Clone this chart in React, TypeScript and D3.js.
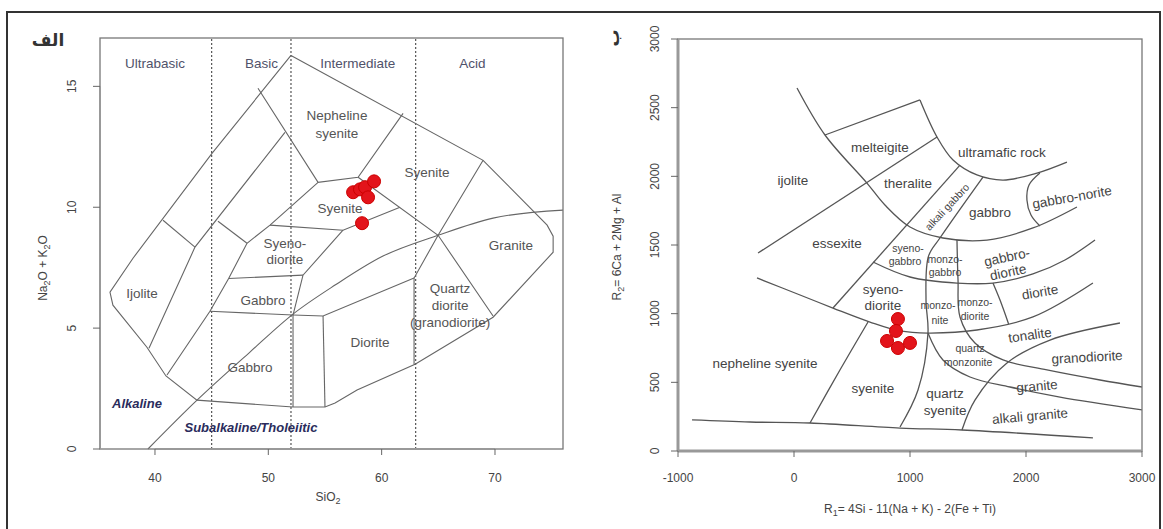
import React, { useEffect, useRef } from 'react';
import * as d3 from 'd3';

type Pt = [number, number];

// ---------- panel "الف": TAS plutonic diagram ----------
const tasTicksX = [40, 50, 60, 70];
const tasTicksY = [0, 5, 10, 15];
const silicaLimits = [45, 52, 63];
const silicaNames = ['Ultrabasic', 'Basic', 'Intermediate', 'Acid'];
const silicaNameX = [40, 49.4, 57.9, 68];

const tasOutline: Pt[] = [
  [52.0, 16.28], [68.95, 11.94], [74.6, 9.26], [75.13, 8.8], [75.13, 8.14], [69.83, 5.45],
  [62.95, 3.51], [57.83, 2.44], [55.89, 1.9], [55.0, 1.74], [52.18, 1.74], [43.7, 2.02],
  [40.97, 3.02], [39.29, 4.21], [36.29, 5.95], [36.03, 6.49], [38.06, 7.89], [45.03, 12.23],
  [52.0, 16.28],
];

const tasBoundaries: Pt[][] = [
  [[49.09, 14.92], [54.39, 11.03], [57.92, 11.24], [61.89, 13.88]],
  [[57.92, 11.24], [64.98, 8.84], [69.83, 5.5]],
  [[68.95, 11.94], [64.98, 8.84], [62.86, 7.07], [62.86, 3.51]],
  [[52.18, 5.54], [54.83, 5.5], [62.86, 7.07]],
  [[54.83, 5.5], [55.0, 1.74]],
  [[52.18, 5.54], [52.18, 1.74]],
  [[50.15, 9.26], [56.59, 9.05], [61.62, 10.0]],
  [[56.59, 9.05], [53.06, 7.19], [52.18, 5.54]],
  [[46.5, 7.05], [53.06, 7.19]],
  [[44.85, 5.7], [52.18, 5.54]],
  [[54.39, 11.03], [50.15, 9.26], [48.12, 8.51], [46.5, 7.05], [44.85, 5.7], [41.06, 3.06]],
  [[51.47, 13.1], [43.53, 8.35], [39.47, 4.17]],
  [[40.71, 9.46], [43.53, 8.35]],
  [[45.56, 9.42], [48.12, 8.51]],
];

// Irvine & Baragar alkaline / subalkaline divide
const alkalineDivide: Pt[] = [
  [39.38, 0], [43.71, 2.02], [48.38, 4.01], [52.18, 5.58], [55.89, 6.78],
  [60.12, 7.98], [64.98, 8.84], [69.83, 9.55], [76.0, 9.88],
];

const tasFieldNames = ['Nepheline', 'syenite', 'Syenite', 'Syenite', 'Syeno-', 'diorite', 'Granite',
  'Gabbro', 'Gabbro', 'Diorite', 'Ijolite', 'Quartz', 'diorite', '(granodiorite)'];
const tasFieldX = [56.06, 56.06, 64.01, 56.33, 51.47, 51.47, 71.4, 49.53, 48.38, 58.98, 38.85, 66.04, 66.04, 66.04];
const tasFieldY = [13.8, 13.06, 11.45, 9.96, 8.51, 7.85, 8.43, 6.16, 3.39, 4.42, 6.45, 6.65, 5.95, 5.25];

const seriesNames = ['Alkaline', 'Subalkaline/Tholeiitic'];
const seriesX = [38.41, 48.47];
const seriesY = [1.9, 0.91];

const sampleSiO2 = [57.48, 58.09, 58.54, 59.33, 58.8, 58.27];
const sampleAlkali = [10.62, 10.74, 10.83, 11.07, 10.41, 9.34];

// ---------- panel "ب": R1-R2 diagram ----------
const r1Ticks = [-1000, 0, 1000, 2000, 3000];
const r2Ticks = [0, 500, 1000, 1500, 2000, 2500, 3000];

const r1r2Boundaries: Pt[][] = [
  [[26, 2643], [267, 2301], [629, 1951], [784, 1791], [1000, 1631], [1284, 1551], [1664, 1536], [2060, 1624], [2439, 1777]],
  [[267, 2301], [1086, 2556]],
  [[1086, 2556], [1233, 2286], [1371, 2119], [1577, 2010], [1802, 1973], [2095, 2024], [2353, 2104]],
  [[-310, 1442], [1233, 2286]],
  [[336, 1041], [1431, 2082]],
  [[1629, 1995], [1258, 1551], [1160, 1420], [1138, 1099], [1155, 859], [1069, 444], [914, 175]],
  [[1405, 1536], [1414, 1245], [1431, 976], [1560, 786], [1802, 663], [2181, 590], [2638, 517], [3000, 466]],
  [[1155, 859], [1284, 663], [1517, 539], [1862, 466], [2293, 393], [3000, 299]],
  [[1448, 153], [1560, 371], [1836, 641], [2207, 808], [2810, 932]],
  [[-319, 1260], [52, 1136], [336, 1041], [655, 939], [914, 874], [1155, 859], [1577, 881], [2060, 976], [2577, 1223]],
  [[681, 1376], [1000, 1267], [1405, 1223], [1715, 1223], [2060, 1289], [2336, 1391], [2595, 1536]],
  [[1715, 1223], [1776, 1099], [1850, 925]],
  [[138, 204], [396, 590], [638, 939]],
  [[-879, 226], [-379, 211], [138, 204], [914, 167], [1448, 153], [2577, 95]],
  [[2120, 2024], [2026, 1937], [2008, 1828], [2043, 1718], [2120, 1638]],
];

const r1r2Names = ['ijolite', 'melteigite', 'ultramafic rock', 'theralite', 'gabbro', 'gabbro-norite',
  'essexite', 'diorite', 'tonalite', 'granodiorite', 'nepheline syenite', 'syenite', 'granite',
  'alkali granite', 'syeno-', 'diorite', 'quartz', 'syenite', 'gabbro-', 'diorite'];
const r1r2NameX = [-9, 741, 1793, 983, 1689, 2396, 371, 2120, 2034, 2526, -250, 681, 2095, 2034, 767, 767, 1302, 1302, 1836, 1845];
const r1r2NameY = [1973, 2213, 2177, 1951, 1740, 1849, 1514, 1158, 845, 684, 641, 459, 473, 255, 1180, 1063, 422, 299, 1413, 1303];
const r1r2Tilt = [0, 0, 0, 0, 0, -10, 0, -10, -8, -3, 0, 0, -5, -5, 0, 0, 0, 0, -12, -12];

const r1r2SmallNames = ['alkali gabbro', 'syeno-', 'gabbro', 'monzo-', 'gabbro', 'monzo-', 'nite',
  'monzo-', 'diorite', 'quartz', 'monzonite'];
const r1r2SmallX = [1319, 983, 957, 1302, 1302, 1241, 1258, 1560, 1560, 1517, 1500];
const r1r2SmallY = [1777, 1478, 1383, 1398, 1303, 1063, 954, 1085, 983, 750, 648];
const r1r2SmallTilt = [-47, 0, 0, 0, 0, 0, 0, 0, 0, 0, 0];

const sampleR1 = [896, 879, 802, 896, 1000];
const sampleR2 = [961, 874, 801, 750, 787];

const FONT = 'Liberation Sans, Arial, sans-serif';

export default function App() {
  const ref = useRef<SVGSVGElement>(null);

  useEffect(() => {
    const svg = d3.select(ref.current);
    svg.selectAll('*').remove();

    svg.append('rect').attr('width', 1163).attr('height', 529).attr('fill', '#fff');
    svg.append('rect')
      .attr('x', 7).attr('y', 12).attr('width', 1153).attr('height', 540)
      .attr('fill', 'none').attr('stroke', '#333').attr('stroke-width', 2);

    const axes = (g: any, x: any, y: any, xt: number[], yt: number[], yLabOff: number, axisW: number) => {
      const [x0, x1] = x.range();
      const [y0, y1] = y.range();
      g.append('rect')
        .attr('x', x0).attr('y', y1).attr('width', x1 - x0).attr('height', y0 - y1)
        .attr('fill', 'none').attr('stroke', '#777').attr('stroke-width', 1.3);
      g.append('line')
        .attr('x1', x(xt[0])).attr('x2', x(xt[xt.length - 1])).attr('y1', y0).attr('y2', y0)
        .attr('stroke', '#999').attr('stroke-width', axisW);
      g.append('line')
        .attr('y1', y(yt[0])).attr('y2', y(yt[yt.length - 1])).attr('x1', x0).attr('x2', x0)
        .attr('stroke', '#999').attr('stroke-width', axisW);
      xt.forEach(t => {
        g.append('line').attr('x1', x(t)).attr('x2', x(t)).attr('y1', y0).attr('y2', y0 + 6)
          .attr('stroke', '#666').attr('stroke-width', 1);
        g.append('text').attr('x', x(t)).attr('y', 482)
          .attr('text-anchor', 'middle').attr('font-size', 12).attr('fill', '#444').attr('font-family', FONT)
          .text(t);
      });
      yt.forEach(t => {
        g.append('line').attr('x1', x0 - 7).attr('x2', x0).attr('y1', y(t)).attr('y2', y(t))
          .attr('stroke', '#666').attr('stroke-width', 1);
        g.append('text')
          .attr('transform', `translate(${x0 - yLabOff},${y(t)}) rotate(-90)`)
          .attr('text-anchor', 'middle').attr('font-size', 12).attr('fill', '#444').attr('font-family', FONT)
          .text(t);
      });
    };

    // ----- left panel -----
    const xL = d3.scaleLinear().domain([35.15, 76]).range([100, 563]);
    const yL = d3.scaleLinear().domain([0, 17]).range([449, 38]);
    const gL = svg.append('g');
    const lineL = d3.line<Pt>().x(d => xL(d[0])).y(d => yL(d[1]));

    silicaLimits.forEach(s => {
      gL.append('line').attr('x1', xL(s)).attr('x2', xL(s)).attr('y1', yL(0)).attr('y2', yL(17))
        .attr('stroke', '#555').attr('stroke-width', 1.2).attr('stroke-dasharray', '2,2');
    });
    gL.append('path').attr('d', lineL(tasOutline)).attr('fill', 'none').attr('stroke', '#666').attr('stroke-width', 1.1);
    tasBoundaries.forEach(b => {
      gL.append('path').attr('d', lineL(b)).attr('fill', 'none').attr('stroke', '#666').attr('stroke-width', 1.1);
    });
    gL.append('path').attr('d', lineL.curve(d3.curveMonotoneX)(alkalineDivide))
      .attr('fill', 'none').attr('stroke', '#666').attr('stroke-width', 1.1);
    lineL.curve(d3.curveLinear);

    axes(gL, xL, yL, tasTicksX, tasTicksY, 24, 2);

    silicaNames.forEach((n, i) => {
      gL.append('text').attr('x', xL(silicaNameX[i])).attr('y', yL(15.95)).attr('dy', '0.35em')
        .attr('text-anchor', 'middle').attr('font-size', 13.5).attr('fill', '#50526a').attr('font-family', FONT)
        .text(n);
    });
    tasFieldNames.forEach((n, i) => {
      gL.append('text').attr('x', xL(tasFieldX[i])).attr('y', yL(tasFieldY[i])).attr('dy', '0.35em')
        .attr('text-anchor', 'middle').attr('font-size', 13.5).attr('fill', '#555').attr('font-family', FONT)
        .text(n);
    });
    seriesNames.forEach((n, i) => {
      gL.append('text').attr('x', xL(seriesX[i])).attr('y', yL(seriesY[i])).attr('dy', '0.35em')
        .attr('text-anchor', 'middle').attr('font-size', 13).attr('font-weight', 'bold').attr('font-style', 'italic')
        .attr('fill', '#2a2c5c').attr('font-family', FONT)
        .text(n);
    });
    sampleSiO2.forEach((s, i) => {
      gL.append('circle').attr('cx', xL(s)).attr('cy', yL(sampleAlkali[i])).attr('r', 6.5)
        .attr('fill', '#e3141b').attr('stroke', '#c00').attr('stroke-width', 1);
    });

    const xt = gL.append('text').attr('x', 328).attr('y', 501).attr('text-anchor', 'middle')
      .attr('font-size', 12).attr('fill', '#444').attr('font-family', FONT);
    xt.append('tspan').text('SiO');
    xt.append('tspan').attr('dy', 3).attr('font-size', 9).text('2');

    const yt = gL.append('text').attr('transform', 'translate(47,268) rotate(-90)').attr('text-anchor', 'middle')
      .attr('font-size', 12).attr('fill', '#444').attr('font-family', FONT);
    yt.append('tspan').text('Na');
    yt.append('tspan').attr('dy', 3).attr('font-size', 9).text('2');
    yt.append('tspan').attr('dy', -3).text('O + K');
    yt.append('tspan').attr('dy', 3).attr('font-size', 9).text('2');
    yt.append('tspan').attr('dy', -3).text('O');

    svg.append('text').attr('x', 48).attr('y', 46).attr('text-anchor', 'middle')
      .attr('font-size', 17).attr('font-weight', 'bold').attr('fill', '#333').attr('font-family', 'DejaVu Sans')
      .text('الف');

    // ----- right panel -----
    const xR = d3.scaleLinear().domain([-1000, 3000]).range([678, 1142]);
    const yR = d3.scaleLinear().domain([0, 3000]).range([451, 39]);
    const gR = svg.append('g');
    const lineR = d3.line<Pt>().x(d => xR(d[0])).y(d => yR(d[1])).curve(d3.curveCatmullRom.alpha(0.5));

    r1r2Boundaries.forEach(b => {
      gR.append('path').attr('d', lineR(b)).attr('fill', 'none').attr('stroke', '#555').attr('stroke-width', 1.3);
    });

    axes(gR, xR, yR, r1Ticks, r2Ticks, 19, 3);

    r1r2Names.forEach((n, i) => {
      gR.append('text')
        .attr('transform', `translate(${xR(r1r2NameX[i])},${yR(r1r2NameY[i])}) rotate(${r1r2Tilt[i]})`)
        .attr('dy', '0.35em').attr('text-anchor', 'middle').attr('font-size', 13.5).attr('fill', '#444')
        .attr('font-family', FONT).text(n);
    });
    r1r2SmallNames.forEach((n, i) => {
      gR.append('text')
        .attr('transform', `translate(${xR(r1r2SmallX[i])},${yR(r1r2SmallY[i])}) rotate(${r1r2SmallTilt[i]})`)
        .attr('dy', '0.35em').attr('text-anchor', 'middle').attr('font-size', 10.5).attr('fill', '#444')
        .attr('font-family', FONT).text(n);
    });
    sampleR1.forEach((r, i) => {
      gR.append('circle').attr('cx', xR(r)).attr('cy', yR(sampleR2[i])).attr('r', 6.5)
        .attr('fill', '#e3141b').attr('stroke', '#c00').attr('stroke-width', 1);
    });

    const rx = gR.append('text').attr('x', 910).attr('y', 513).attr('text-anchor', 'middle')
      .attr('font-size', 12).attr('fill', '#444').attr('font-family', FONT);
    rx.append('tspan').text('R');
    rx.append('tspan').attr('dy', 3).attr('font-size', 9).text('1');
    rx.append('tspan').attr('dy', -3).text('= 4Si - 11(Na + K) - 2(Fe + Ti)');

    const ry = gR.append('text').attr('transform', 'translate(621,247) rotate(-90)').attr('text-anchor', 'middle')
      .attr('font-size', 12).attr('fill', '#444').attr('font-family', FONT);
    ry.append('tspan').text('R');
    ry.append('tspan').attr('dy', 3).attr('font-size', 9).text('2');
    ry.append('tspan').attr('dy', -3).text('= 6Ca + 2Mg + Al');

    svg.append('text').attr('transform', 'translate(619,38) rotate(-90)').attr('text-anchor', 'middle')
      .attr('font-size', 17).attr('font-weight', 'bold').attr('fill', '#333').attr('font-family', 'DejaVu Sans')
      .text('ب');
  }, []);

  return (
    <svg ref={ref} width={1163} height={529}
      style={{ position: 'absolute', left: 0, top: 0, display: 'block' }} />
  );
}
